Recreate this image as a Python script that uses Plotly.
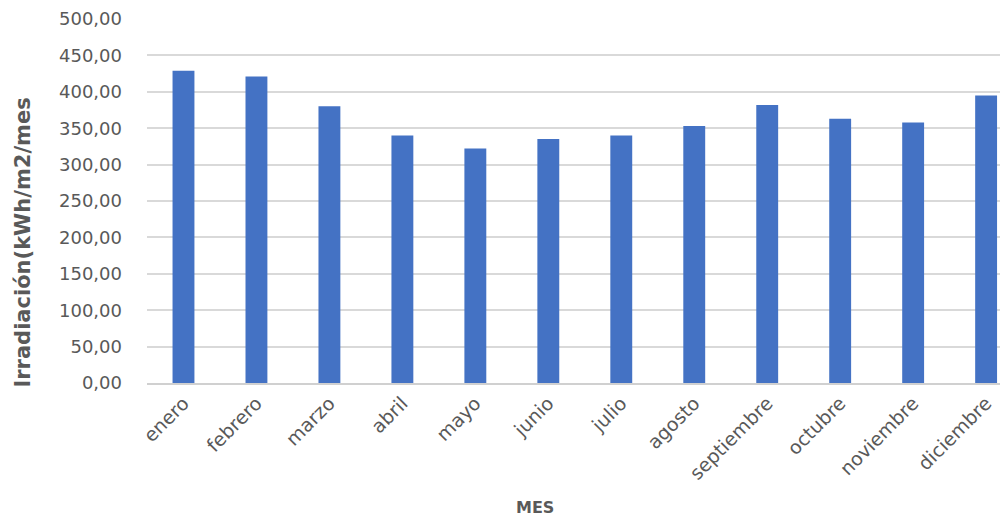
import plotly.graph_objects as go

meses = ["enero", "febrero", "marzo", "abril", "mayo", "junio", "julio",
         "agosto", "septiembre", "octubre", "noviembre", "diciembre"]
irradiacion = [429, 421, 380, 340, 322, 335, 340, 353, 382, 363, 358, 395]
y_ticks = [0, 50, 100, 150, 200, 250, 300, 350, 400, 450, 500]
y_tick_labels = [f"{v:.2f}".replace(".", ",") for v in y_ticks]

gray = "#595959"
font_family = "DejaVu Sans"

# page body has an 8px margin, so the figure is laid out 8px smaller
W, H = 1000, 512
OFF = 8
plot_left = 146.5 - OFF
plot_top = 19 - OFF
plot_bottom = 383 - OFF
plot_w = W - plot_left
plot_h = plot_bottom - plot_top

fig = go.Figure()
fig.add_trace(go.Bar(
    x=list(range(len(meses))),
    y=irradiacion,
    width=0.3,
    marker=dict(color="#4472C4", line=dict(width=0)),
))

fig.update_layout(
    width=W, height=H,
    margin=dict(l=plot_left, r=0, t=plot_top, b=H - plot_bottom, autoexpand=False),
    paper_bgcolor="white", plot_bgcolor="white",
    showlegend=False,
    font=dict(family=font_family, color=gray, size=16),
    xaxis=dict(
        tickmode="array",
        tickvals=list(range(len(meses))),
        ticktext=meses,
        tickangle=-45,
        range=[-0.5, 11.3],
        showgrid=False,
        showline=True, linecolor="#d0d0d0", linewidth=1.5,
        ticks="", tickfont=dict(size=19, color=gray, family=font_family),
        zeroline=False, automargin=False,
    ),
    yaxis=dict(
        range=[0, 500],
        tickmode="array",
        tickvals=y_ticks,
        ticktext=y_tick_labels,
        showgrid=True, gridcolor="#d9d9d9", gridwidth=1.5,
        zeroline=False, showline=False, ticks="",
        ticklabelstandoff=24, automargin=False,
        tickfont=dict(size=18, color=gray, family=font_family),
    ),
    annotations=[
        dict(text="<b>Irradiación(kWh/m2/mes</b>", xref="paper", yref="paper",
             x=(22 - 146.5) / plot_w, y=(383 - 243) / plot_h,
             xanchor="center", yanchor="middle",
             textangle=-90, showarrow=False,
             font=dict(size=21, color=gray, family=font_family)),
        dict(text="<b>MES</b>", xref="paper", yref="paper",
             x=(535 - 146.5) / plot_w, y=-(507 - 383) / plot_h,
             xanchor="center", yanchor="middle",
             showarrow=False,
             font=dict(size=16, color=gray, family=font_family)),
    ],
)

fig.write_html("out.html")
